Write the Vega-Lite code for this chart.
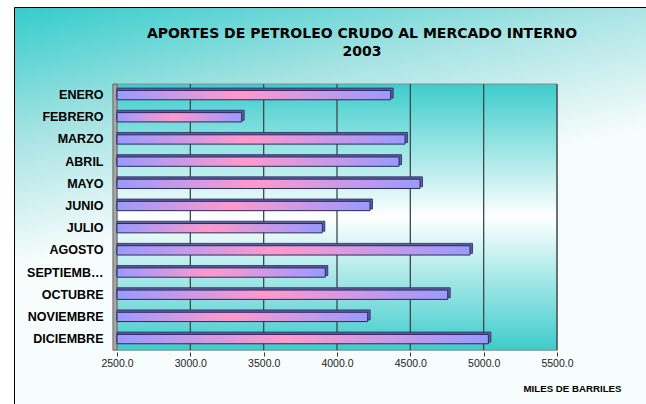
{
  "$schema": "https://vega.github.io/schema/vega-lite/v6.json",
  "width": 632,
  "height": 397,
  "autosize": {"type": "none"},
  "padding": {"left": 14, "top": 7, "right": 0, "bottom": 0},
  "background": "#ffffff",
  "view": {
    "stroke": "#000000",
    "strokeWidth": 1,
    "fill": {
      "gradient": "linear",
      "x1": 0, "y1": 0, "x2": 0.2, "y2": 0.58,
      "stops": [
        {"offset": 0, "color": "#34CCCC"},
        {"offset": 0.5, "color": "#a6e3e3"},
        {"offset": 1, "color": "#f7fcfc"}
      ]
    }
  },
  "title": {
    "text": ["APORTES DE PETROLEO CRUDO AL MERCADO INTERNO", "2003"],
    "font": "DejaVu Sans",
    "fontSize": 14,
    "fontWeight": "bold",
    "color": "#000000",
    "anchor": "middle",
    "baseline": "top",
    "lineHeight": 18,
    "dx": 32,
    "offset": -52
  },
  "datasets": {
    "months": [
      {"mes": "ENERO", "valor": 4366},
      {"mes": "FEBRERO", "valor": 3350},
      {"mes": "MARZO", "valor": 4464},
      {"mes": "ABRIL", "valor": 4423},
      {"mes": "MAYO", "valor": 4566},
      {"mes": "JUNIO", "valor": 4225},
      {"mes": "JULIO", "valor": 3900},
      {"mes": "AGOSTO", "valor": 4907},
      {"mes": "SEPTIEMBRE", "valor": 3920},
      {"mes": "OCTUBRE", "valor": 4755},
      {"mes": "NOVIEMBRE", "valor": 4209},
      {"mes": "DICIEMBRE", "valor": 5032}
    ],
    "grid": [
      {"g": 3000}, {"g": 3500}, {"g": 4000}, {"g": 4500}, {"g": 5000}, {"g": 5500}
    ],
    "one": [{"k": 1}]
  },
  "encoding": {
    "y": {
      "field": "mes",
      "type": "nominal",
      "sort": null,
      "scale": {
        "domain": ["ENERO", "FEBRERO", "MARZO", "ABRIL", "MAYO", "JUNIO", "JULIO", "AGOSTO", "SEPTIEMBRE", "OCTUBRE", "NOVIEMBRE", "DICIEMBRE"],
        "range": [77, 343.2],
        "paddingInner": 0,
        "paddingOuter": 0
      },
      "axis": {
        "title": null,
        "offset": -103,
        "domain": false,
        "ticks": false,
        "labelPadding": 14,
        "labelFont": "Liberation Sans",
        "labelFontSize": 12.5,
        "labelFontWeight": "bold",
        "labelColor": "#000000",
        "labelLimit": 79,
        "zindex": 1
      }
    }
  },
  "layer": [
    {
      "data": {"name": "one"},
      "mark": {
        "type": "rect",
        "stroke": "#8a8a8a",
        "strokeWidth": 1,
        "fill": {
          "gradient": "linear",
          "x1": 0, "y1": 0, "x2": 0, "y2": 1,
          "stops": [
            {"offset": 0, "color": "#3ECCCC"},
            {"offset": 0.5, "color": "#ffffff"},
            {"offset": 1, "color": "#3ECCCC"}
          ]
        }
      },
      "encoding": {
        "x": {"datum": 2500, "type": "quantitative"},
        "x2": {"datum": 5500},
        "y": {"datum": "ENERO", "type": "nominal", "bandPosition": 0},
        "y2": {"datum": "DICIEMBRE", "bandPosition": 1}
      }
    },
    {
      "data": {"name": "one"},
      "mark": {"type": "rect", "fill": "#a6a6a6", "stroke": "#555555", "strokeWidth": 0.8},
      "encoding": {
        "x": {"datum": 2472, "type": "quantitative"},
        "x2": {"datum": 2500},
        "y": {"datum": "ENERO", "type": "nominal", "bandPosition": 0},
        "y2": {"datum": "DICIEMBRE", "bandPosition": 1}
      }
    },
    {
      "data": {"name": "grid"},
      "mark": {"type": "rule", "color": "#3c4a4a", "strokeWidth": 1.3},
      "encoding": {
        "x": {"field": "g", "type": "quantitative"},
        "y": {"datum": "ENERO", "type": "nominal", "bandPosition": 0},
        "y2": {"datum": "DICIEMBRE", "bandPosition": 1}
      }
    },
    {
      "data": {"name": "months"},
      "mark": {
        "type": "bar",
        "height": {"band": 0.45},
        "fill": "#5c5ca8",
        "stroke": "#2b2b55",
        "strokeWidth": 0.8,
        "xOffset": 2.5,
        "yOffset": -2
      },
      "encoding": {
        "x": {
          "field": "valor",
          "type": "quantitative",
          "scale": {"domain": [1797.7, 6106.8], "nice": false, "zero": false},
          "axis": {
            "values": [2500, 3000, 3500, 4000, 4500, 5000, 5500],
            "format": ".1f",
            "offset": -52,
            "domain": false,
            "grid": false,
            "ticks": true,
            "tickSize": 4,
            "tickColor": "#333333",
            "labelPadding": 2,
            "labelFont": "Liberation Sans",
            "labelFontSize": 10.5,
            "labelColor": "#222222",
            "labelOverlap": false,
            "labelFlush": false,
            "zindex": 1,
            "title": "MILES DE BARRILES",
            "titleFont": "Liberation Sans",
            "titleFontSize": 9.7,
            "titleFontWeight": "bold",
            "titleColor": "#000000",
            "titleX": 607,
            "titleY": 36,
            "titleAlign": "right",
            "titleBaseline": "middle",
            "titleAnchor": null
          }
        },
        "x2": {"datum": 2500}
      }
    },
    {
      "data": {"name": "months"},
      "mark": {
        "type": "bar",
        "height": {"band": 0.42},
        "stroke": "#2b2b55",
        "strokeWidth": 1,
        "fill": {
          "gradient": "linear",
          "x1": 0, "y1": 0, "x2": 1, "y2": 0,
          "stops": [
            {"offset": 0, "color": "#9a9aff"},
            {"offset": 0.45, "color": "#ff99cc"},
            {"offset": 1, "color": "#9a9aff"}
          ]
        }
      },
      "encoding": {
        "x": {"field": "valor", "type": "quantitative"},
        "x2": {"datum": 2500}
      }
    }
  ]
}
